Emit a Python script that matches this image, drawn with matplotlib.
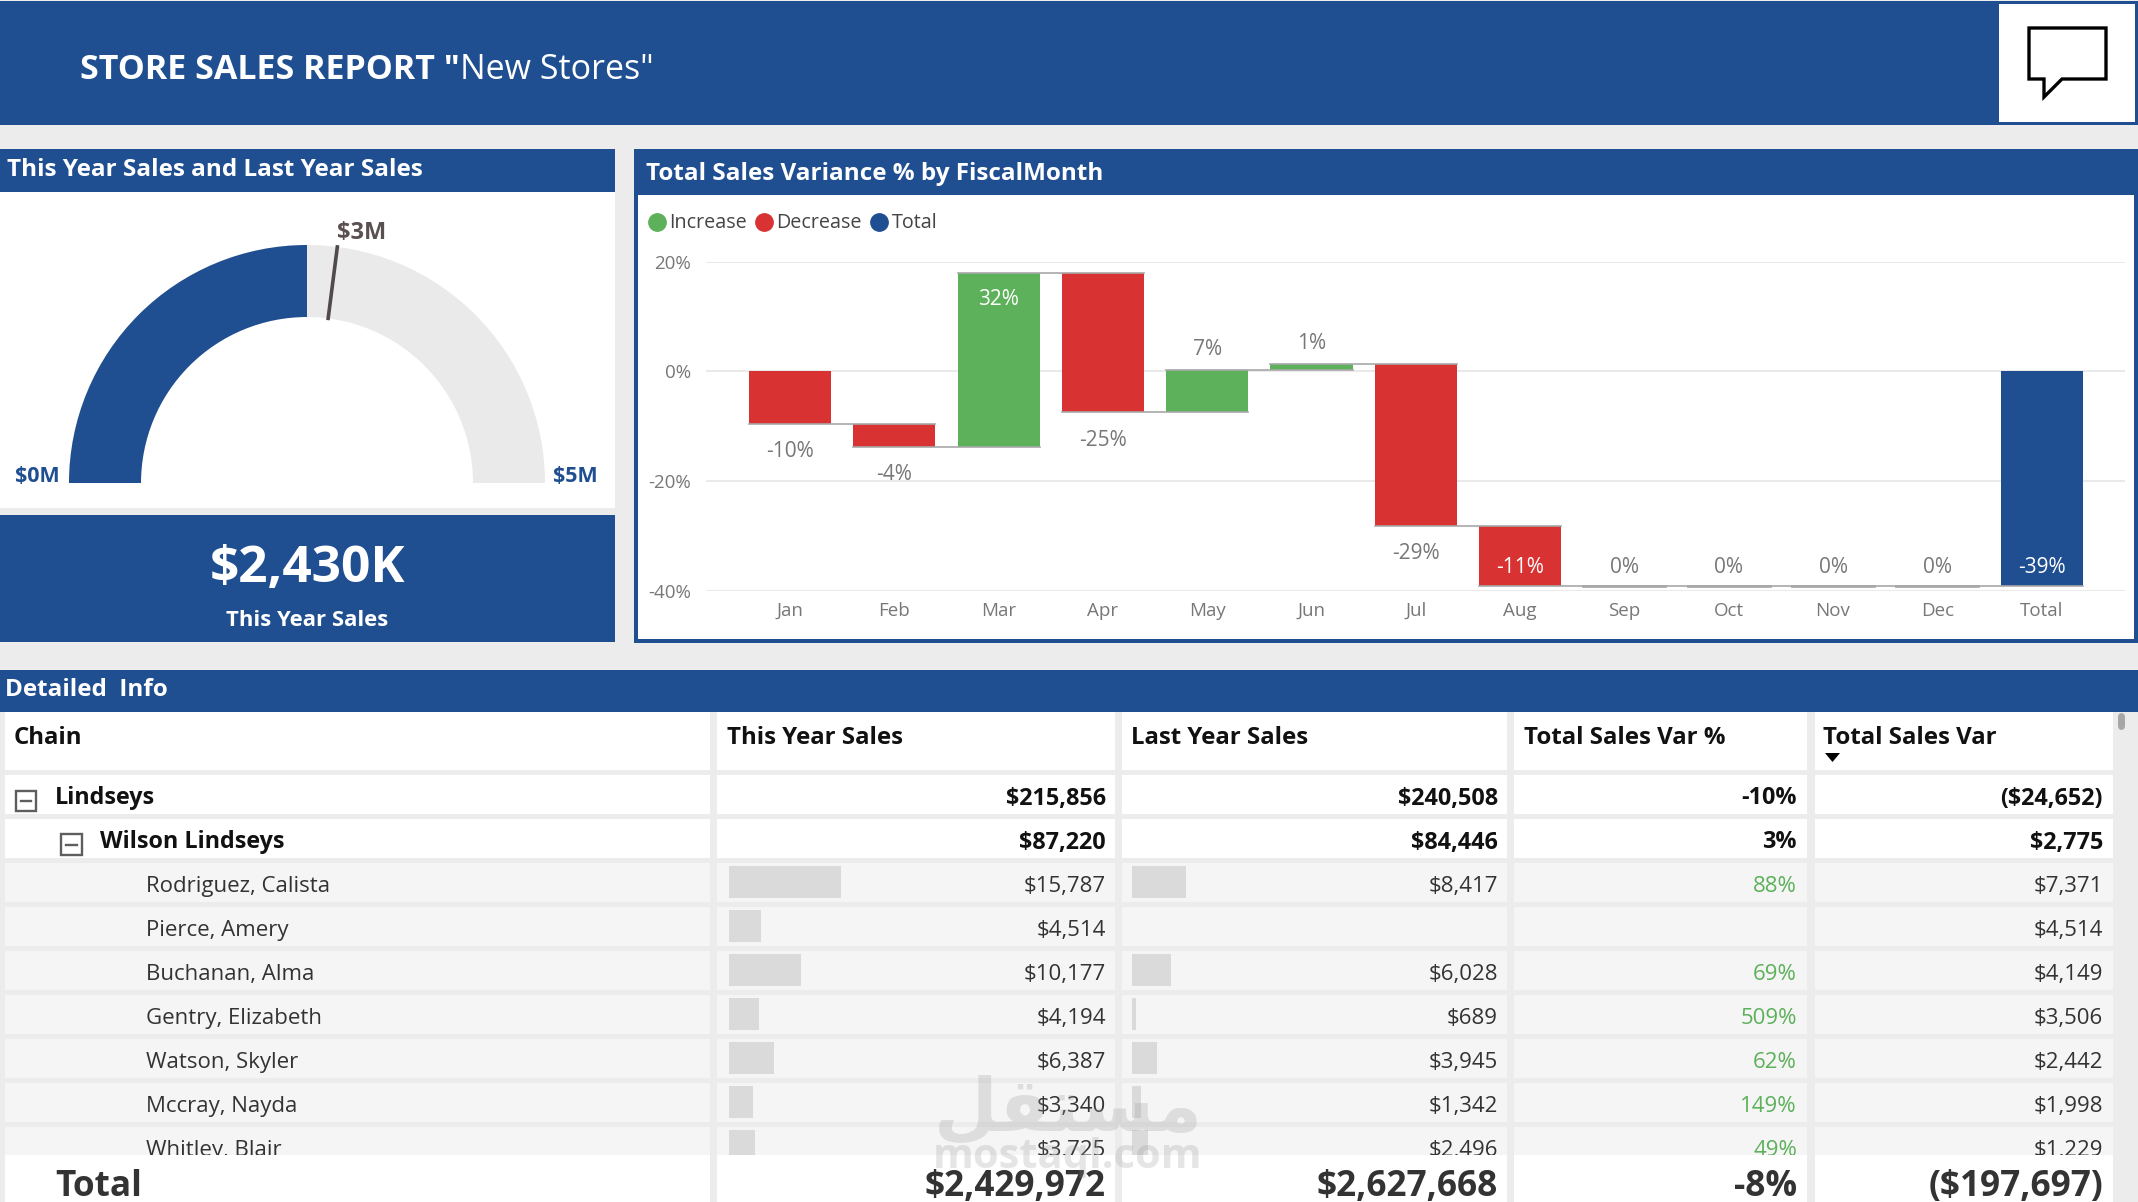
import numpy as np
import matplotlib
matplotlib.use('Agg')
import matplotlib.pyplot as plt
from matplotlib.patches import Rectangle, Wedge, Polygon

WIDTH = 2138
HEIGHT = 1202

BLUE = '#1F4E91'
GREEN = '#5CB15A'
RED = '#D83232'
BACKGROUND = '#ECECEC'
ROW_GREY = '#F5F5F5'
BAR_GREY = '#DADADA'

plt.rcParams['font.family'] = ['Open Sans', 'DejaVu Sans']

# gauge
thisYearTotal = 2429972
lastYearTotal = 2627668

# waterfall
months = ['Jan', 'Feb', 'Mar', 'Apr', 'May', 'Jun', 'Jul', 'Aug', 'Sep', 'Oct', 'Nov', 'Dec']
monthVariance = [-9.5, -4.2, 31.7, -25.4, 7.6, 1.1, -29.4, -10.9, 0, 0, 0, 0]
varianceTotal = -39.0
varianceLabels = ['-10%', '-4%', '32%', '-25%', '7%', '1%', '-29%', '-11%', '0%', '0%', '0%', '0%', '-39%']
varianceTicks = [20, 0, -20, -40]

# table
tableHeaders = ['Chain', 'This Year Sales', 'Last Year Sales', 'Total Sales Var %', 'Total Sales Var']
chainNames = ['Lindseys', 'Wilson Lindseys', 'Rodriguez, Calista', 'Pierce, Amery', 'Buchanan, Alma',
	'Gentry, Elizabeth', 'Watson, Skyler', 'Mccray, Nayda', 'Whitley, Blair']
thisYearSales = [215856, 87220, 15787, 4514, 10177, 4194, 6387, 3340, 3725]
lastYearSales = [240508, 84446, 8417, None, 6028, 689, 3945, 1342, 2496]
salesVarPct = ['-10%', '3%', '88%', '', '69%', '509%', '62%', '149%', '49%']
salesVar = [-24652, 2775, 7371, 4514, 4149, 3506, 2442, 1998, 1229]
totalRow = ['Total', '$2,429,972', '$2,627,668', '-8%', '($197,697)']

def money(value):
	if value is None:
		return ''
	if value < 0:
		return '(${:,})'.format(-value)
	return '${:,}'.format(value)

def axesAt(fig, left, top, right, bottom):
	return fig.add_axes([left/WIDTH, 1 - bottom/HEIGHT, (right - left)/WIDTH, (bottom - top)/HEIGHT])

fig = plt.figure(figsize = (WIDTH/100, HEIGHT/100), dpi = 100, facecolor = BACKGROUND)

# page layer, coordinates are pixels of the picture
page = axesAt(fig, 0, 0, WIDTH, HEIGHT)
page.set_xlim(0, WIDTH)
page.set_ylim(HEIGHT, 0)
page.axis('off')

def box(x0, y0, x1, y1, color, zorder = 1):
	page.add_patch(Rectangle((x0, y0), x1 - x0, y1 - y0, facecolor = color, edgecolor = 'none', zorder = zorder))

# header
box(0, 1, WIDTH, 125, BLUE)
box(1999, 4, 2135, 122, 'white', 2)
page.add_patch(Polygon([(2029, 28), (2106, 28), (2106, 79), (2062, 79), (2044, 97), (2044, 79), (2029, 79)],
	closed = True, facecolor = 'white', edgecolor = 'black', linewidth = 2.4, zorder = 3))
titleBold = page.text(80, 70, 'STORE SALES REPORT "', color = 'white', fontsize = 24.5, fontweight = 'bold', va = 'center', zorder = 3)
fig.canvas.draw()
titleEnd = titleBold.get_window_extent().x1
page.text(titleEnd, 70, 'New Stores"', color = 'white', fontsize = 24.5, va = 'center', zorder = 3)

# left cards
box(0, 149, 615, 192, BLUE)
box(0, 192, 615, 508, 'white')
box(0, 515, 615, 642, BLUE)
page.text(7, 170, 'This Year Sales and Last Year Sales', color = 'white', fontsize = 17.5, fontweight = 'bold', va = 'center', zorder = 3)
page.text(307, 569, '$2,430K', color = 'white', fontsize = 37, fontweight = 'bold', ha = 'center', va = 'center', zorder = 3)
page.text(307, 621, 'This Year Sales', color = 'white', fontsize = 15.8, fontweight = 'bold', ha = 'center', va = 'center', zorder = 3)
page.text(362, 233, '$3M', color = '#5A5050', fontsize = 17, fontweight = 'bold', ha = 'center', va = 'center', zorder = 3)
page.text(37.5, 477, '$0M', color = BLUE, fontsize = 15.5, fontweight = 'bold', ha = 'center', va = 'center', zorder = 3)
page.text(575, 477, '$5M', color = BLUE, fontsize = 15.5, fontweight = 'bold', ha = 'center', va = 'center', zorder = 3)

# waterfall card
box(634, 149, WIDTH, 643, BLUE)
box(638, 195, 2134, 639, 'white')
page.text(646, 174, 'Total Sales Variance % by FiscalMonth', color = 'white', fontsize = 17.5, fontweight = 'bold', va = 'center', zorder = 3)
for dotX, textX, name, color in [(656.5, 669, 'Increase', GREEN), (764, 776, 'Decrease', RED), (879, 892, 'Total', BLUE)]:
	page.plot([dotX], [222], marker = 'o', markersize = 12.5, color = color, zorder = 3)
	page.text(textX, 223, name, color = '#444444', fontsize = 14.2, va = 'center', zorder = 3)

# table background
colLeft = [5, 717, 1122, 1514, 1815]
colRight = [710, 1115, 1507, 1807, 2113]
headerTextX = [13.5, 727, 1131, 1524, 1823]
valueRight = [1106, 1498, 1797, 2103]
rowTop = [775, 819, 863, 907, 951, 995, 1039, 1083, 1127]
ROW_HEIGHT = 38.7

box(0, 670, WIDTH, 712, BLUE)
page.text(5, 690, 'Detailed  Info', color = 'white', fontsize = 17.5, fontweight = 'bold', va = 'center', zorder = 3)

for left, right, textX, header in zip(colLeft, colRight, headerTextX, tableHeaders):
	box(left, 712, right, 770, 'white')
	page.text(textX, 738, header, color = '#111111', fontsize = 17.3, fontweight = 'bold', va = 'center', zorder = 3)
page.add_patch(Polygon([(1825, 753), (1840, 753), (1832.5, 762)], closed = True, facecolor = 'black', edgecolor = 'none', zorder = 3))

for r, top in enumerate(rowTop):
	for left, right in zip(colLeft, colRight):
		box(left, top, right, top + ROW_HEIGHT, 'white' if r < 2 else ROW_GREY)

# data bars inside the cells
barCentres = np.array(rowTop[2:]) + 19
page.barh(barCentres, np.array(thisYearSales[2:])*0.00708, height = 32, left = 729, color = BAR_GREY, zorder = 2)
lastYearBars = np.array([0 if v is None else v for v in lastYearSales[2:]])
page.barh(barCentres, lastYearBars*0.0064, height = 32, left = 1132, color = BAR_GREY, zorder = 2)

nameX = [55, 100] + [146]*7
for r, top in enumerate(rowTop):
	y = top + 23.5
	weight = 'bold' if r < 2 else 'normal'
	size = 16.8 if r < 2 else 16
	textColor = '#111111' if r < 2 else '#333333'
	page.text(nameX[r], y, chainNames[r], color = textColor, fontsize = size, fontweight = weight, va = 'center', zorder = 3)
	page.text(valueRight[0], y, money(thisYearSales[r]), color = textColor, fontsize = size, fontweight = weight, ha = 'right', va = 'center', zorder = 3)
	page.text(valueRight[1], y, money(lastYearSales[r]), color = textColor, fontsize = size, fontweight = weight, ha = 'right', va = 'center', zorder = 3)
	pctColor = textColor if r < 2 else GREEN
	page.text(valueRight[2], y, salesVarPct[r], color = pctColor, fontsize = size, fontweight = weight, ha = 'right', va = 'center', zorder = 3)
	page.text(valueRight[3], y, money(salesVar[r]), color = textColor, fontsize = size, fontweight = weight, ha = 'right', va = 'center', zorder = 3)

# expand icons
for x0, y0 in [(15.5, 790.5), (61, 834)]:
	page.add_patch(Rectangle((x0, y0), 20.5, 20.5, facecolor = 'white', edgecolor = '#605E5C', linewidth = 1.7, zorder = 3))
	page.plot([x0 + 5, x0 + 15.5], [y0 + 10.5, y0 + 10.5], color = '#605E5C', linewidth = 1.7, zorder = 4)

# total row covers whatever is scrolled under it
box(0, 1154.5, WIDTH, HEIGHT, BACKGROUND, 5)
for left, right in zip(colLeft, colRight):
	box(left, 1154.5, right, HEIGHT, 'white', 5)
page.text(55, 1187, totalRow[0], color = '#333333', fontsize = 25.3, fontweight = 'bold', va = 'center', zorder = 6)
for right, label in zip(valueRight, totalRow[1:]):
	page.text(right, 1187, label, color = '#333333', fontsize = 25.3, fontweight = 'bold', ha = 'right', va = 'center', zorder = 6)

# scrollbar
page.plot([2120.5, 2120.5], [716, 726], color = '#A6A6A6', linewidth = 5, solid_capstyle = 'round', zorder = 3)

# watermark
page.text(1068, 1110, '\ufede\ufed8\ufe98\ufeb4\ufee3', color = '#999999', alpha = 0.25, fontsize = 53, fontweight = 'bold', family = 'DejaVu Sans', ha = 'center', va = 'center', zorder = 8)
page.text(1068, 1158, 'mostaql.com', color = '#999999', alpha = 0.25, fontsize = 30, fontweight = 'bold', ha = 'center', va = 'center', zorder = 8)

# gauge, angle comes from the share of the maximum
gaugeMax = 2*thisYearTotal
gauge = axesAt(fig, 69, 245, 545, 483)
gauge.set_xlim(-1, 1)
gauge.set_ylim(0, 1)
gauge.axis('off')
INNER = 166/238
gauge.add_patch(Wedge((0, 0), 1, 0, 180, width = 1 - INNER, facecolor = '#EAEAEA', edgecolor = 'none'))
valueAngle = 180*(1 - thisYearTotal/gaugeMax)
gauge.add_patch(Wedge((0, 0), 1, valueAngle, 180, width = 1 - INNER, facecolor = BLUE, edgecolor = 'none'))
targetAngle = np.pi*(1 - lastYearTotal/gaugeMax)
gauge.plot([INNER*np.cos(targetAngle), np.cos(targetAngle)], [INNER*np.sin(targetAngle), np.sin(targetAngle)],
	color = '#504A4A', linewidth = 2.6, clip_on = False)

# waterfall
chart = axesAt(fig, 706, 261.7, 2125, 591)
chart.patch.set_alpha(0)
BAR_WIDTH = 0.787
SLOT = 104.3
chart.set_xlim((706 - 790)/SLOT, (2125 - 790)/SLOT)
chart.set_ylim(-40, 20)
for side in chart.spines.values():
	side.set_visible(False)
chart.set_yticks(varianceTicks)
chart.set_yticklabels(['{}%'.format(t) for t in varianceTicks])
chart.set_xticks(range(len(months) + 1))
chart.set_xticklabels(months + ['Total'])
chart.tick_params(axis = 'y', length = 0, pad = 11, labelsize = 13.5, labelcolor = '#777777')
chart.tick_params(axis = 'x', length = 0, pad = 8, labelsize = 13.5, labelcolor = '#777777')
chart.grid(axis = 'y', color = '#EAEAEA', linewidth = 1.5)
chart.set_axisbelow(True)

level = 0
for i, delta in enumerate(monthVariance):
	start = level
	level = start + delta
	color = GREEN if delta > 0 else RED
	if delta != 0:
		chart.bar(i, delta, bottom = start, width = BAR_WIDTH, color = color, zorder = 2)
	else:
		chart.plot([i - BAR_WIDTH/2, i + BAR_WIDTH/2], [level, level], color = '#ABABAB', linewidth = 2, zorder = 3)
	chart.plot([i - BAR_WIDTH/2, i + 1 + BAR_WIDTH/2], [level, level], color = '#A8A8A8', linewidth = 1.2, zorder = 3)

	if months[i] == 'Mar':
		position, offset, textColor = max(start, level), -27, 'white'
	elif months[i] == 'Aug':
		position, offset, textColor = level, 18, 'white'
	elif delta < 0:
		position, offset, textColor = level, -28, '#777777'
	elif delta == 0:
		position, offset, textColor = level, 18, '#777777'
	else:
		position, offset, textColor = max(start, level), 21, '#777777'
	chart.annotate(varianceLabels[i], (i, position), xytext = (0, offset*0.72), textcoords = 'offset points',
		ha = 'center', va = 'center', fontsize = 15, color = textColor, zorder = 4)

totalX = len(months)
chart.bar(totalX, varianceTotal, width = BAR_WIDTH, color = BLUE, zorder = 2)
chart.annotate(varianceLabels[-1], (totalX, varianceTotal), xytext = (0, 18*0.72), textcoords = 'offset points',
	ha = 'center', va = 'center', fontsize = 15, color = 'white', zorder = 4)

fig.savefig('out.png', dpi = 100, facecolor = BACKGROUND)
